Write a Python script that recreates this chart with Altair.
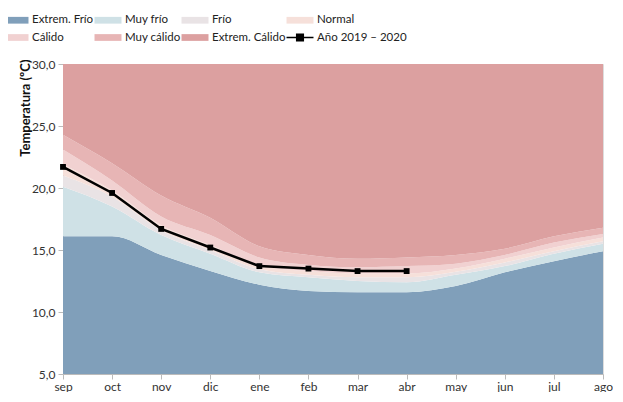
import altair as alt
import pandas as pd

months = ["sep", "oct", "nov", "dic", "ene", "feb", "mar", "abr", "may", "jun", "jul", "ago"]

# upper boundary of each climate category (ºC)
ext_frio = [16.1, 16.1, 14.6, 13.3, 12.2, 11.7, 11.6, 11.6, 12.1, 13.2, 14.1, 14.9]
muy_frio = [20.1, 18.5, 16.2, 14.7, 13.2, 12.8, 12.5, 12.4, 13.0, 13.7, 14.7, 15.5]
frio = [21.0, 19.3, 16.6, 15.0, 13.45, 13.0, 12.8, 12.8, 13.25, 14.0, 14.9, 15.7]
normal = [21.9, 19.8, 17.0, 15.4, 13.75, 13.3, 13.1, 13.1, 13.5, 14.3, 15.2, 16.0]
calido = [23.1, 20.6, 17.7, 16.2, 14.4, 13.8, 13.6, 13.7, 13.9, 14.6, 15.6, 16.3]
muy_calido = [24.3, 22.0, 19.4, 17.6, 15.3, 14.6, 14.3, 14.4, 14.6, 15.1, 16.1, 16.8]
ext_calido = [30.0] * 12

# observed 2019-2020 year
year_months = ["sep", "oct", "nov", "dic", "ene", "feb", "mar", "abr"]
year_vals = [21.7, 19.6, 16.7, 15.2, 13.7, 13.5, 13.3, 13.3]

cats = ["Extrem. Frío", "Muy frío", "Frío", "Normal", "Cálido", "Muy cálido", "Extrem. Cálido"]
line_label = "Año 2019 – 2020"
colors = ["#809fba", "#cfe1e6", "#e9e3e5", "#f6e0da", "#f1d1d1", "#e7b5b5", "#dca0a0", "#000000"]

uppers = [ext_frio, muy_frio, frio, normal, calido, muy_calido, ext_calido]
rows = []
lower = [5.0] * 12
for cat, up in zip(cats, uppers):
    for i, m in enumerate(months):
        rows.append({"mes": m, "cat": cat, "lo": lower[i], "hi": up[i]})
    lower = up
bands = pd.DataFrame(rows)
line_df = pd.DataFrame({"mes": year_months, "t": year_vals})

font = "Lato"
xscale = alt.Scale(type="point", padding=0, domain=months)
yscale = alt.Scale(domain=[5, 30])

xaxis = alt.Axis(title=None, labelAngle=0, labelFontSize=12, labelColor="#333",
                 domainColor="#bbbbbb", tickColor="#bbbbbb", tickSize=5, labelPadding=2,
                 grid=False)
yaxis = alt.Axis(title="Temperatura (ºC)", values=[5, 10, 15, 20, 25, 30],
                 labelExpr="replace(format(datum.value, '.1f'), '.', ',')",
                 labelFontSize=12, labelColor="#333", domainColor="#bbbbbb",
                 tickColor="#bbbbbb", tickSize=5, labelPadding=3, grid=False,
                 titleFontSize=13, titleFontWeight="bold", titleColor="#111",
                 titleAngle=270, titleAlign="right", titleBaseline="middle",
                 titleX=-38, titleY=-5)

sym_expr = ("datum.value == '" + line_label + "' ? "
            "'M-2,-0.12H2V0.12H-2Z M-0.6,-0.6H0.6V0.6H-0.6Z' : 'M-2,-0.5H2V0.5H-2Z'")

legend = alt.Legend(title=None, orient="none", legendX=-55, legendY=-51, columns=4,
                    direction="horizontal", symbolType={"expr": sym_expr}, symbolSize=182,
                    symbolOpacity=1, symbolStrokeWidth=0, labelOffset=10,
                    labelFontSize=11.5, labelColor="#222", labelFont=font,
                    rowPadding=4.5, columnPadding=0)

areas = alt.Chart(bands).mark_area(interpolate="monotone", opacity=1).encode(
    x=alt.X("mes:N", scale=xscale, axis=xaxis, sort=months),
    y=alt.Y("hi:Q", scale=yscale, axis=yaxis),
    y2="lo:Q",
    color=alt.Color("cat:N", scale=alt.Scale(domain=cats + [line_label], range=colors),
                    legend=legend),
)

line = alt.Chart(line_df).mark_line(color="black", strokeWidth=2.5).encode(
    x=alt.X("mes:N", scale=xscale, sort=months),
    y=alt.Y("t:Q", scale=yscale),
)
pts = alt.Chart(line_df).mark_point(shape="square", filled=True, color="black",
                                     size=34, opacity=1).encode(
    x=alt.X("mes:N", scale=xscale, sort=months),
    y=alt.Y("t:Q", scale=yscale),
)

chart = alt.layer(areas, line, pts).properties(
    width=540, height=310,
    padding={"left": 0, "top": 5, "right": 0, "bottom": 0},
).configure_view(stroke=None).configure(font=font)

chart.save("out.html", embed_options={"renderer": "svg", "actions": False})
